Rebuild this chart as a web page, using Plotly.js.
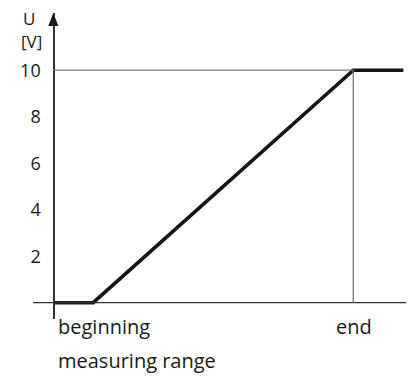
<!DOCTYPE html>
<html>
<head>
<meta charset="utf-8">
<script src="https://cdn.plot.ly/plotly-3.0.1.min.js"></script>
<style>html,body{margin:0;padding:0;background:#fff;}#chart{width:412px;height:376px;}</style>
</head>
<body>
<div id="chart"></div>
<script>
// Output signal U [V] across the measuring range
const rangeX = [0, 13.3, 100, 116.7];      // position within measuring range (%)
const voltageU = [0, 0, 10, 10];           // output voltage [V]
const yTickVals = [2, 4, 6, 8, 10];
const xMarkVals = [0, 100];
const xMarkText = ['beginning', 'end'];
const xAxisTitle = 'measuring range';
const yAxisTitle = ['U', '[V]'];
const fullScale = 10;

const FONT = 'Open Sans, Liberation Sans, sans-serif';
const TXT = '#1a1a1a';

const trace = {
  x: rangeX, y: voltageU, type: 'scatter', mode: 'lines',
  line: {color: '#151515', width: 3.6},
  hoverinfo: 'skip', showlegend: false
};

// plot area: x 20..406 px, y 13..319 px
const layout = {
  width: 412, height: 376,
  margin: {l: 20, r: 6, t: 13, b: 57},
  paper_bgcolor: '#fff', plot_bgcolor: '#fff',
  font: {family: FONT, color: TXT, size: 18},
  xaxis: {range: [-11.1, 117.57], visible: false, fixedrange: true},
  yaxis: {
    range: [-0.701, 12.46], anchor: 'free', position: 33.3 / 386,
    showline: true, linecolor: '#333', linewidth: 1.3,
    showgrid: false, zeroline: false,
    tickvals: yTickVals, ticks: 'outside', ticklen: 9, tickcolor: 'rgba(0,0,0,0)',
    tickfont: {family: FONT, size: 18, color: TXT}, fixedrange: true
  },
  shapes: [
    // x axis line
    {type: 'line', xref: 'x', yref: 'y', x0: -6.77, x1: 117.57, y0: 0, y1: 0,
     line: {color: '#333', width: 1.3}},
    // y axis arrow head
    {type: 'path', xref: 'x', yref: 'y', path: 'M -1.7,11.9 L 0,12.46 L 1.7,11.9 Z',
     fillcolor: '#1a1a1a', line: {width: 0}},
    // full-scale guide
    {type: 'line', xref: 'x', yref: 'y', x0: 0, x1: xMarkVals[1], y0: fullScale, y1: fullScale,
     line: {color: '#777', width: 1.3}},
    // end-of-range guide
    {type: 'line', xref: 'x', yref: 'y', x0: xMarkVals[1], x1: xMarkVals[1], y0: 0, y1: fullScale,
     line: {color: '#777', width: 1.3}}
  ],
  annotations: [
    {xref: 'x', yref: 'paper', x: xMarkVals[0], y: -0.0229, xanchor: 'left', yanchor: 'middle', xshift: 3,
     text: xMarkText[0], showarrow: false, font: {family: FONT, size: 20, color: TXT}},
    {xref: 'x', yref: 'paper', x: xMarkVals[1], y: -0.0229, xanchor: 'center', yanchor: 'middle', xshift: 1,
     text: xMarkText[1], showarrow: false, font: {family: FONT, size: 20, color: TXT}},
    {xref: 'x', yref: 'paper', x: xMarkVals[0], y: -0.134, xanchor: 'left', yanchor: 'middle', xshift: 3,
     text: xAxisTitle, showarrow: false, font: {family: FONT, size: 20, color: TXT}},
    {xref: 'x', yref: 'y', x: -8.1, y: 12.23, xanchor: 'center', yanchor: 'middle',
     text: yAxisTitle[0], showarrow: false, font: {family: FONT, size: 17, color: TXT}},
    {xref: 'x', yref: 'y', x: -7.43, y: 11.23, xanchor: 'center', yanchor: 'middle',
     text: yAxisTitle[1], showarrow: false, font: {family: FONT, size: 17, color: TXT}}
  ]
};

Plotly.newPlot('chart', [trace], layout, {displayModeBar: false, staticPlot: true});
</script>
</body>
</html>
